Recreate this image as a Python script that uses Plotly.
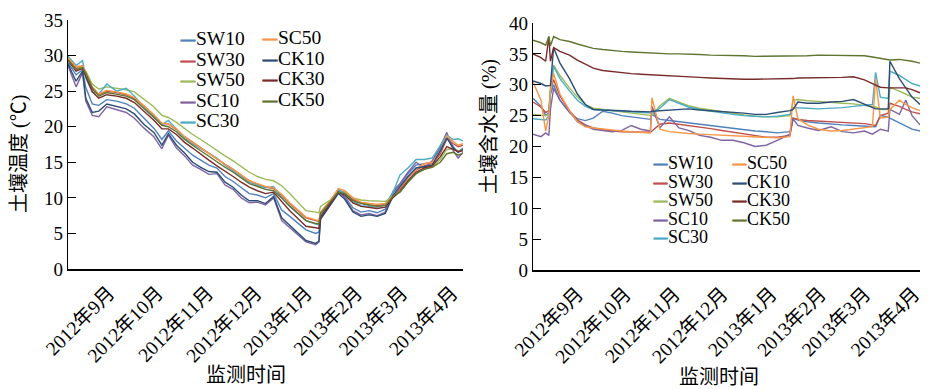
import plotly.graph_objects as go

# ---------------- data: soil temperature (left panel) ----------------
temp_dates = ["2012-08-03","2012-08-08","2012-08-12","2012-08-14","2012-08-18","2012-08-22","2012-08-27",
              "2012-09-02","2012-09-08","2012-09-13","2012-09-19","2012-09-25","2012-09-30","2012-10-04",
              "2012-10-09","2012-10-14","2012-10-19","2012-10-24","2012-10-29","2012-11-03","2012-11-08",
              "2012-11-13","2012-11-18","2012-11-23","2012-11-28","2012-12-03","2012-12-08","2012-12-13",
              "2012-12-18","2012-12-23","2012-12-28","2013-01-03","2013-01-05","2013-01-06","2013-01-12",
              "2013-01-17","2013-01-21","2013-01-26","2013-01-31","2013-02-05","2013-02-10","2013-02-15",
              "2013-02-20","2013-02-24","2013-03-01","2013-03-06","2013-03-11","2013-03-16","2013-03-21",
              "2013-03-25","2013-03-29","2013-04-01","2013-04-04"]

t_SW10 = [29.0,27.3,28.0,25.5,23.2,23.0,23.8,23.6,23.2,22.6,21.2,19.8,18.2,19.4,18.0,17.0,16.0,15.3,14.6,14.2,13.0,
          12.3,11.4,10.6,10.4,10.0,10.6,8.3,7.4,6.4,5.5,5.0,5.2,7.2,9.2,10.8,10.2,8.6,8.0,8.2,7.9,8.4,10.8,11.8,
          13.4,14.6,14.8,15.0,17.0,18.8,17.2,16.4,17.0]
t_SW30 = [29.6,28.2,28.5,27.4,25.3,24.5,25.0,24.8,24.5,24.0,22.9,21.6,20.4,20.4,19.6,18.6,17.8,17.0,16.2,15.4,14.7,
          14.0,13.2,12.4,11.9,11.5,11.3,10.4,9.2,8.2,7.2,6.8,6.7,7.9,9.6,11.0,10.8,9.8,9.3,9.0,8.9,9.1,10.3,11.2,
          12.8,13.9,14.5,14.8,16.2,18.3,17.6,17.2,17.4]
t_SW50 = [29.8,28.5,28.4,27.8,26.0,25.3,25.6,25.4,25.2,24.9,23.9,22.8,21.6,21.3,20.6,19.7,18.9,18.2,17.4,16.6,15.9,
          15.2,14.4,13.6,13.0,12.6,12.4,11.7,10.6,9.4,8.2,8.0,7.9,8.8,9.7,10.8,10.8,10.0,9.7,9.6,9.5,9.5,10.2,10.8,
          12.3,13.4,14.0,14.4,15.4,16.8,16.9,16.6,16.8]
t_SC10 = [28.6,25.6,27.6,23.6,21.6,21.4,22.8,22.4,22.0,21.2,19.8,18.6,16.9,18.8,17.0,15.9,14.6,14.0,13.3,13.4,11.8,
          11.2,10.0,9.3,9.4,9.0,10.0,6.8,5.8,4.8,3.8,3.4,3.8,7.0,9.0,10.9,10.0,8.2,7.6,7.8,7.5,8.0,11.0,12.0,
          13.6,15.0,14.2,15.2,17.2,19.2,16.6,15.6,16.4]
t_SC30 = [29.9,28.6,29.3,26.8,24.9,24.6,26.0,25.0,25.4,24.3,22.8,21.5,20.3,20.9,19.6,18.4,17.6,16.9,16.3,15.6,14.6,
          13.8,13.0,12.2,11.8,11.4,11.6,10.0,8.9,7.9,6.8,6.3,6.2,7.6,9.6,11.2,10.6,9.5,8.9,8.8,8.7,9.0,10.9,13.2,
          14.2,15.4,15.4,15.6,17.4,18.8,18.2,18.3,18.0]
t_SC50 = [29.7,28.4,28.6,27.6,25.6,24.6,25.1,24.9,24.6,24.1,22.9,21.7,20.5,20.4,19.7,18.6,17.8,17.0,16.2,15.4,14.7,
          14.0,13.2,12.4,12.0,11.6,11.4,10.5,9.3,8.3,7.3,6.9,6.8,8.0,9.6,11.3,11.0,10.0,9.4,9.2,9.1,9.2,10.5,11.4,
          12.9,14.0,14.8,15.0,16.6,18.7,17.9,17.4,17.6]
t_CK10 = [28.8,26.4,27.8,24.0,22.0,22.2,23.2,22.9,22.5,21.8,20.3,19.2,17.4,19.0,17.4,16.3,15.0,14.3,13.7,13.6,12.2,
          11.5,10.4,9.6,9.6,9.2,10.2,7.2,6.1,5.1,4.0,3.6,3.9,7.0,9.0,10.6,9.8,8.0,7.4,7.6,7.4,7.8,10.4,11.5,
          13.0,14.2,14.4,14.6,16.6,18.4,17.0,16.4,16.8]
t_CK30 = [29.3,27.8,28.2,27.0,24.9,24.0,24.5,24.3,24.0,23.4,22.2,20.9,19.7,19.7,18.9,17.8,17.0,16.1,15.3,14.5,13.8,
          13.0,12.2,11.5,11.0,10.6,10.8,9.5,8.2,7.1,6.0,5.8,5.7,7.3,9.3,10.8,10.4,9.3,8.8,8.6,8.5,8.7,10.1,10.9,
          12.4,13.6,14.2,14.5,15.8,17.2,16.8,16.5,16.6]
t_CK50 = [29.4,28.0,28.3,27.5,25.5,24.3,24.8,24.6,24.3,23.8,22.6,21.3,20.2,20.0,19.3,18.2,17.4,16.6,15.8,15.0,14.3,
          13.6,12.8,12.0,11.6,11.2,11.0,10.0,8.8,7.8,6.8,6.4,6.4,7.8,9.4,10.8,10.6,9.6,9.2,9.0,8.8,8.9,10.3,10.8,
          12.2,13.4,14.0,14.3,15.0,16.2,16.4,16.0,16.3]

# ---------------- data: soil moisture (right panel) ----------------
moist_dates = ["2012-07-31","2012-08-05","2012-08-08","2012-08-10","2012-08-11","2012-08-13","2012-08-17",
               "2012-08-23","2012-08-28","2012-09-02","2012-09-07","2012-09-13","2012-09-19","2012-09-25",
               "2012-10-01","2012-10-07","2012-10-13","2012-10-14","2012-10-19","2012-10-25","2012-10-31",
               "2012-11-06","2012-11-13","2012-11-20","2012-11-27","2012-12-04","2012-12-11","2012-12-18",
               "2012-12-25","2013-01-01","2013-01-09","2013-01-11","2013-01-14","2013-01-20","2013-01-27",
               "2013-02-04","2013-02-11","2013-02-18","2013-02-25","2013-03-02","2013-03-04","2013-03-07",
               "2013-03-12","2013-03-13","2013-03-19","2013-03-23","2013-03-27","2013-04-01"]

m_SW10 = [27.8,26.5,25.0,25.5,28.5,30.0,27.5,25.5,24.5,24.2,24.6,25.7,25.4,25.0,24.8,24.6,24.4,25.2,24.4,24.2,
          24.0,23.8,23.6,23.4,23.1,22.9,22.7,22.5,22.4,22.2,22.4,24.6,24.3,24.0,23.8,23.6,23.5,23.4,23.3,23.2,
          23.2,25.0,24.8,24.6,23.8,23.2,22.8,22.5]
m_SW30 = [27.2,26.4,25.5,25.8,29.0,30.8,28.2,25.8,24.3,23.5,23.0,22.7,22.5,22.4,22.4,22.3,22.3,22.5,23.6,23.8,
          23.6,23.4,23.2,22.9,22.6,22.3,22.0,21.7,21.5,21.5,21.8,24.6,24.4,24.2,24.1,24.0,24.0,23.9,23.7,23.5,
          23.4,25.0,25.4,27.0,26.5,26.0,25.6,25.3]
m_SW50 = [25.2,25.1,25.0,25.2,30.0,33.2,31.5,29.5,28.0,26.8,26.2,26.0,25.8,25.6,25.4,25.2,25.0,25.0,26.6,27.8,
          27.2,26.6,26.2,25.9,25.6,25.3,25.1,24.9,24.8,24.8,25.0,27.5,27.6,27.4,27.3,27.2,27.0,26.9,26.6,26.4,
          26.4,26.0,26.0,29.6,29.0,28.5,28.0,27.8]
m_SC10 = [22.0,21.6,22.2,21.8,26.0,29.4,27.5,25.5,24.0,23.4,22.8,22.6,22.4,22.6,23.4,22.8,22.5,26.5,23.0,24.8,
          23.0,22.6,21.8,21.5,21.0,21.0,20.6,20.0,20.2,21.0,22.0,24.5,23.4,23.0,22.6,23.2,22.4,22.2,22.5,22.0,
          22.3,22.8,22.5,26.0,25.2,27.5,25.0,23.5]
m_SC30 = [24.5,24.4,24.3,25.0,28.5,33.0,31.0,29.0,27.5,26.5,26.0,25.9,25.8,25.7,25.6,25.5,25.4,25.4,26.2,27.6,
          27.0,26.4,26.0,25.7,25.4,25.2,25.0,24.9,24.8,24.9,25.2,26.3,26.3,26.2,26.1,26.2,26.3,26.5,26.7,26.8,
          32.0,28.0,27.8,32.2,31.5,30.8,30.2,29.8]
m_SC50 = [30.5,27.5,22.5,25.0,29.0,31.8,28.5,25.8,24.0,23.2,23.0,22.8,22.6,22.5,22.4,22.3,22.2,27.9,22.8,22.4,
          22.2,22.1,22.0,21.9,21.8,21.7,21.6,21.5,21.4,21.4,21.6,28.2,24.5,23.5,22.8,22.5,22.6,22.8,23.0,23.2,
          31.0,24.6,24.8,26.0,27.5,26.8,26.3,25.8]
m_CK10 = [30.6,30.2,29.8,29.8,29.9,36.0,33.5,31.0,28.5,26.8,26.0,25.9,25.9,25.8,25.7,25.6,25.6,25.7,25.8,25.9,
          26.0,26.1,25.9,25.8,25.7,25.6,25.4,25.2,25.2,25.5,25.8,26.0,27.2,27.0,27.0,27.2,27.3,27.6,26.8,26.2,
          26.1,26.1,26.1,33.8,31.0,29.5,28.0,26.8]
m_CK30 = [35.0,34.4,33.8,37.8,33.8,36.0,35.4,34.8,34.0,33.3,32.7,32.3,32.1,31.9,31.8,31.7,31.6,31.6,31.5,31.5,
          31.4,31.3,31.2,31.1,31.0,31.0,30.9,30.9,30.9,31.0,31.0,31.0,31.1,31.1,31.2,31.2,31.2,31.3,30.8,30.2,
          30.0,29.6,29.5,29.5,29.6,29.5,29.2,28.7]
m_CK50 = [37.2,36.8,36.4,37.8,36.3,37.8,37.3,37.0,36.6,36.2,35.9,35.7,35.5,35.4,35.3,35.2,35.1,35.1,35.0,35.0,
          35.0,34.9,34.9,34.8,34.8,34.7,34.7,34.6,34.6,34.6,34.7,34.7,34.7,34.7,34.8,34.8,34.8,34.8,34.7,34.5,
          34.4,34.2,34.0,34.0,34.1,34.0,33.8,33.5]

series_names = ["SW10", "SW30", "SW50", "SC10", "SC30", "SC50", "CK10", "CK30", "CK50"]
series_colors = ["#4F81BD", "#C0504D", "#9BBB59", "#8064A2", "#4BACC6", "#F79646",
                 "#2C4D75", "#772C2A", "#5F7530"]
temp_series = [t_SW10, t_SW30, t_SW50, t_SC10, t_SC30, t_SC50, t_CK10, t_CK30, t_CK50]
moist_series = [m_SW10, m_SW30, m_SW50, m_SC10, m_SC30, m_SC50, m_CK10, m_CK30, m_CK50]

tick_dates = ["2012-09-01", "2012-10-01", "2012-11-01", "2012-12-01",
              "2013-01-01", "2013-02-01", "2013-03-01", "2013-04-01"]
tick_texts = ["2012年9月", "2012年10月", "2012年11月", "2012年12月",
              "2013年1月", "2013年2月", "2013年3月", "2013年4月"]

FONT = "Liberation Serif, Noto Sans CJK SC"
W, H = 932, 389

fig = go.Figure()
for name, col, vals in zip(series_names, series_colors, temp_series):
    fig.add_trace(go.Scatter(x=temp_dates, y=vals, mode="lines", name=name,
                             line=dict(color=col, width=1.4), xaxis="x", yaxis="y",
                             showlegend=False))
for name, col, vals in zip(series_names, series_colors, moist_series):
    fig.add_trace(go.Scatter(x=moist_dates, y=vals, mode="lines", name=name,
                             line=dict(color=col, width=1.4), xaxis="x2", yaxis="y2",
                             showlegend=False))

xcommon = dict(type="date", tickmode="array", tickvals=tick_dates, ticktext=tick_texts,
               tickangle=-45, ticks="", showgrid=False, zeroline=False, showline=True,
               automargin=False, ticklabelshift=-6, ticklabelstandoff=3,
               linecolor="black", linewidth=2, tickfont=dict(family=FONT, size=19.5, color="black"))
ycommon = dict(dtick=5, ticks="inside", ticklen=8, tickwidth=1.3, tickcolor="black",
               showgrid=False, zeroline=False, showline=True, linecolor="black", linewidth=1.3,
               automargin=False,
               tickfont=dict(family=FONT, size=19, color="black"))

fig.update_layout(
    width=W, height=H, margin=dict(l=0, r=0, t=0, b=0, autoexpand=False),
    paper_bgcolor="white", plot_bgcolor="white",
    xaxis=dict(domain=[68 / W, 463 / W], range=["2012-08-03", "2013-04-04"], anchor="y", **xcommon),
    yaxis=dict(domain=[1 - 269 / H, 1 - 20 / H], range=[0, 35], anchor="x", **ycommon),
    xaxis2=dict(domain=[533 / W, 920 / W], range=["2012-07-31", "2013-04-01"], anchor="y2", **xcommon),
    yaxis2=dict(domain=[1 - 270 / H, 1 - 23 / H], range=[0, 40], anchor="x2", **ycommon),
)

title_font = dict(family=FONT, size=20, color="black")
ann = [
    dict(text="监测时间", x=246 / W, y=1 - 375 / H, xanchor="center", yanchor="middle"),
    dict(text="监测时间", x=719 / W, y=1 - 377 / H, xanchor="center", yanchor="middle"),
    dict(text="土壤温度 (℃)", x=19 / W, y=1 - 154 / H, xanchor="center", yanchor="middle",
         textangle=-90),
    dict(text="土壤含水量 (%)", x=489 / W, y=1 - 127 / H, xanchor="center", yanchor="middle",
         textangle=-90),
]
for a in ann:
    a.update(xref="paper", yref="paper", showarrow=False, font=title_font)


def legend_block(names, colors, big, dash):
    lines = []
    for n, c in zip(names, colors):
        lines.append(f'<span style="font-size:{big}px"><span style="color:{c};stroke:{c};'
                     f'stroke-width:0.9px;font-family:DejaVu Sans;font-size:{dash}px">—</span>{n}</span>')
    return "<br>".join(lines)


# legends: two columns per panel (column-major order)
# (names, colours, x of sample start, centre y, row pitch, text size, sample size)
legend_cols = [
    (series_names[:5], series_colors[:5], 178, 79, 20.5, 19.5, 16),
    (series_names[5:], series_colors[5:], 260, 69, 20.5, 19.5, 16),
    (series_names[:5], series_colors[:5], 651, 200, 18.6, 18, 15),
    (series_names[5:], series_colors[5:], 730, 191, 18.6, 18, 15),
]
for names, colors, px, py, pitch, big, dash in legend_cols:
    ann.append(dict(text=legend_block(names, colors, big, dash), x=px / W, y=1 - py / H,
                    xref="paper", yref="paper", xanchor="left", yanchor="middle", align="left",
                    showarrow=False, font=dict(family=FONT, size=pitch / 1.3, color="black")))

fig.update_layout(annotations=ann)
# remove the browser's default page margin so the 932x389 figure fills the window exactly
fig.write_html("out.html", config={"displayModeBar": False},
               post_script="document.body.style.margin='0';document.body.style.overflow='hidden';")
